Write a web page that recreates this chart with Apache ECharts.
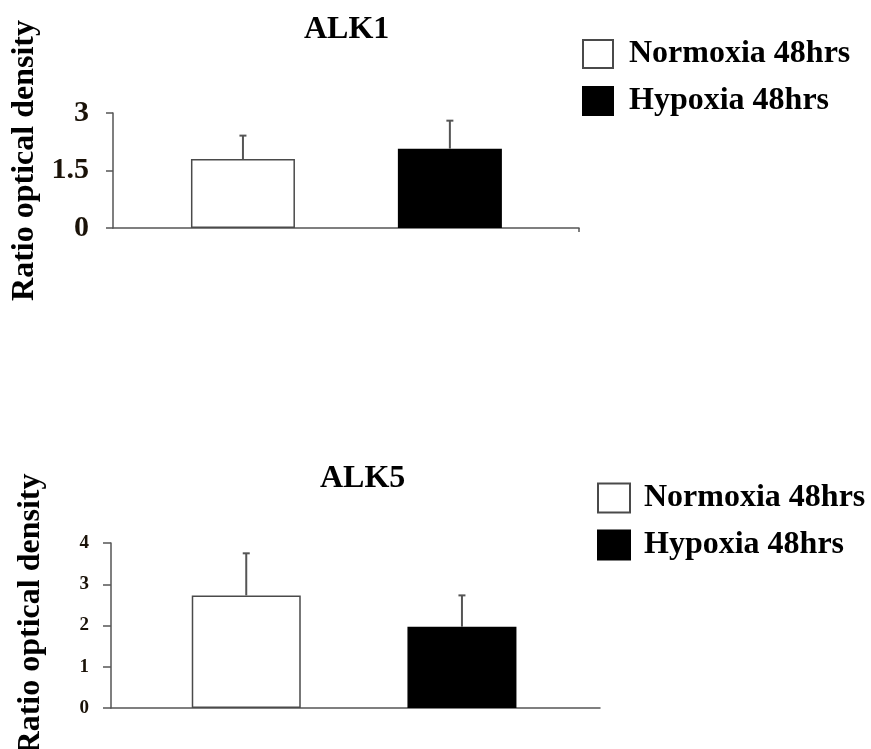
<!DOCTYPE html>
<html>
<head>
<meta charset="utf-8">
<script src="https://cdn.jsdelivr.net/npm/echarts@6/dist/echarts.min.js"></script>
<style>
  html, body { margin: 0; padding: 0; background: #fff; }
  #chart { width: 871px; height: 749px; }
</style>
</head>
<body>
<div id="chart"></div>
<script>
// ---- data ----
const categories = ['Normoxia 48hrs', 'Hypoxia 48hrs'];
const panelTitles = ['ALK1', 'ALK5'];
const yAxisTitle = 'Ratio optical density';
const alk1Mean = [1.80, 2.07];
const alk1Err = [0.61, 0.73];
const alk5Mean = [2.73, 1.97];
const alk5Err = [1.02, 0.76];
const alk1Ticks = [0, 1.5, 3];
const alk5Ticks = [0, 1, 2, 3, 4];

const FONT = '"Liberation Serif", "Times New Roman", serif';
const AXIS_COLOR = '#555';
const fills = ['#ffffff', '#000000'];
const borders = ['#4a4a4a', '#000000'];

const panels = [
  { mean: alk1Mean, err: alk1Err, ticks: alk1Ticks,
    grid: { left: 113, top: 113, width: 466, height: 115 },
    xMin: -0.628, xMax: 1.624, barWidth: 104,
    labelSize: 30, labelMargin: 24, tickLen: 7, endTick: true,
    nameGap: 65, namePad: [0, 0, 0, 20] },
  { mean: alk5Mean, err: alk5Err, ticks: alk5Ticks,
    grid: { left: 111, top: 543, width: 489, height: 165 },
    xMin: -0.627, xMax: 1.640, barWidth: 109,
    labelSize: 19, labelMargin: 22, tickLen: 8, endTick: false,
    nameGap: 64, namePad: [0, 0, 0, 23] }
];

const grids = [], xAxes = [], yAxes = [], series = [];
panels.forEach((p, gi) => {
  grids.push(Object.assign({ containLabel: false, outerBoundsMode: 'none' }, p.grid));
  xAxes.push({
    type: 'value', gridIndex: gi, min: p.xMin, max: p.xMax,
    axisLine: { show: true, onZero: true, lineStyle: { color: AXIS_COLOR, width: 1.5 } },
    axisTick: p.endTick ? { show: true, length: 4, customValues: [p.xMax], lineStyle: { color: AXIS_COLOR, width: 1.5 } } : { show: false },
    axisLabel: { show: false },
    splitLine: { show: false }
  });
  const ticks = p.ticks;
  yAxes.push({
    type: 'value', gridIndex: gi,
    min: ticks[0], max: ticks[ticks.length - 1], interval: ticks[1] - ticks[0],
    name: yAxisTitle, nameLocation: 'middle', nameRotate: 90, nameGap: p.nameGap,
    nameTextStyle: { fontFamily: FONT, fontWeight: 'bold', fontSize: 32, color: '#000', padding: p.namePad },
    axisLine: { show: true, onZero: false, lineStyle: { color: AXIS_COLOR, width: 1.5 } },
    axisTick: { show: true, inside: false, length: p.tickLen, lineStyle: { color: AXIS_COLOR, width: 1.5 } },
    axisLabel: { fontFamily: FONT, fontWeight: 'bold', fontSize: p.labelSize, color: '#1a1208', margin: p.labelMargin },
    splitLine: { show: false }
  });
  categories.forEach((name, i) => {
    series.push({
      type: 'bar', name: name, xAxisIndex: gi, yAxisIndex: gi,
      barWidth: p.barWidth, barGap: '-100%',
      data: [[i, p.mean[i]]],
      itemStyle: { color: fills[i], borderColor: borders[i], borderWidth: 1.5 },
      emphasis: { disabled: true },
      z: 2
    });
  });
  series.push({
    type: 'custom', name: 'err' + gi, xAxisIndex: gi, yAxisIndex: gi,
    data: categories.map((c, i) => [i, p.mean[i], p.err[i]]),
    encode: { x: 0, y: 1 },
    z: 3,
    renderItem: function (params, api) {
      const x = api.value(0), m = api.value(1), e = api.value(2);
      const a = api.coord([x, m]);
      const b = api.coord([x, m + e]);
      const st = { stroke: AXIS_COLOR, lineWidth: 2 };
      return {
        type: 'group',
        children: [
          { type: 'line', shape: { x1: a[0], y1: a[1], x2: b[0], y2: b[1] }, style: st },
          { type: 'line', shape: { x1: b[0] - 3.5, y1: b[1], x2: b[0] + 3.5, y2: b[1] }, style: st }
        ]
      };
    }
  });
});

const legendText = { fontFamily: FONT, fontWeight: 'bold', fontSize: 32, color: '#000' };
const option = {
  backgroundColor: '#fff',
  animation: false,
  title: [
    { text: panelTitles[0], left: 304, top: 14, padding: 0,
      textStyle: { fontFamily: FONT, fontWeight: 'bold', fontSize: 32, color: '#000' } },
    { text: panelTitles[1], left: 320, top: 463, padding: 0,
      textStyle: { fontFamily: FONT, fontWeight: 'bold', fontSize: 32, color: '#000' } }
  ],
  legend: [
    { data: categories, orient: 'vertical', left: 582, top: 38, padding: 0,
      icon: 'rect', itemWidth: 30, itemHeight: 28, itemGap: 15,
      selectedMode: false,
      textStyle: Object.assign({ padding: [0, 0, 0, 11] }, legendText) },
    { data: categories, orient: 'vertical', left: 597, top: 482, padding: 0,
      icon: 'rect', itemWidth: 32, itemHeight: 29, itemGap: 15,
      selectedMode: false,
      textStyle: Object.assign({ padding: [0, 0, 0, 9] }, legendText) }
  ],
  grid: grids,
  xAxis: xAxes,
  yAxis: yAxes,
  series: series
};

const chart = echarts.init(document.getElementById('chart'), null, { renderer: 'canvas' });
chart.setOption(option);
</script>
</body>
</html>
